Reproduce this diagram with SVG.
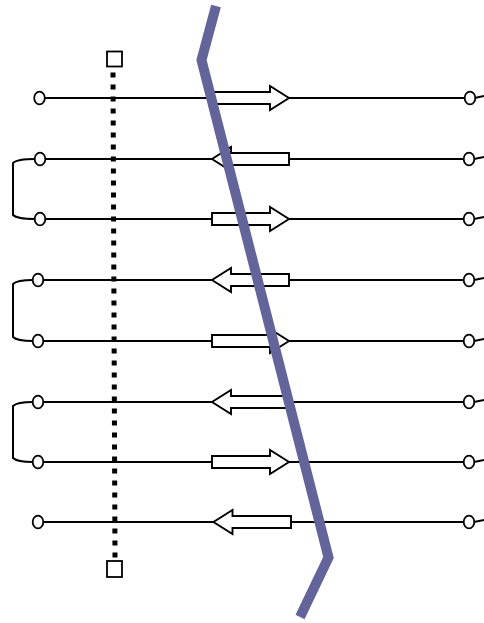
<svg xmlns="http://www.w3.org/2000/svg" width="484" height="623" viewBox="0 0 484 623">
<style>
.ln{stroke:#000;stroke-width:2;fill:none}
.term{fill:#fff;stroke:#000;stroke-width:1.8}
.arr{fill:#fff;stroke:#000;stroke-width:1.9;stroke-linejoin:miter}
.sq{fill:#fff;stroke:#000;stroke-width:1.8}
.dots{stroke:#000;stroke-width:5;stroke-dasharray:5 7;fill:none}
.cut{stroke:#63649a;stroke-width:10;fill:none;stroke-linejoin:miter}
</style>
<g id="connectors">
<path class="ln" d="M44,98H464.5M474.5,98L484,96"/>
<path class="ln" d="M45,159H464M474,159L484,157"/>
<path class="ln" d="M45,219H464M474,219L484,217"/>
<path class="ln" d="M43,280H464M474,280L484,278"/>
<path class="ln" d="M43,341H464M474,341L484,339"/>
<path class="ln" d="M43,402H464M474,402L484,400"/>
<path class="ln" d="M43,462H464M474,462L484,460"/>
<path class="ln" d="M43,522H464M474,522L484,520"/>
<path class="ln" d="M35,159Q17,159 13,163V215Q17,219 35,219"/>
<path class="ln" d="M33,280Q17,280 13,284V337Q17,341 33,341"/>
<path class="ln" d="M33,402Q17,402 13,406V458Q17,462 33,462"/>
<path class="dots" d="M113,72.5L115,557.5"/>
</g>
<g id="arrows">
<polygon id="a1" class="arr" points="212,92 270,92 270,86 289,98 270,110 270,104 212,104"/>
<polygon id="a2" class="arr" points="289,153 231,153 231,147 212,159 231,171 231,165 289,165"/>
<polygon id="a3" class="arr" points="212,213 270,213 270,207 289,219 270,231 270,225 212,225"/>
<polygon id="a4" class="arr" points="289,274 231,274 231,268 212,280 231,292 231,286 289,286"/>
<polygon id="a5" class="arr" points="212,335 270,335 270,329 289,341 270,353 270,347 212,347"/>
<polygon id="a6" class="arr" points="289,396 231,396 231,390 212,402 231,414 231,408 289,408"/>
<polygon id="a7" class="arr" points="212,456 270,456 270,450 289,462 270,474 270,468 212,468"/>
<polygon id="a8" class="arr" points="291,516 232.5,516 232.5,510 213.5,522 232.5,534 232.5,528 291,528"/>
</g>
<g id="left-terminals">
<ellipse id="l1" class="term" cx="39.5" cy="98" rx="5.3" ry="6.3"/>
<ellipse id="l2" class="term" cx="40" cy="159" rx="5.3" ry="6.3"/>
<ellipse id="l3" class="term" cx="40" cy="219" rx="5.3" ry="6.3"/>
<ellipse id="l4" class="term" cx="38" cy="280" rx="5.3" ry="6.3"/>
<ellipse id="l5" class="term" cx="38" cy="341" rx="5.3" ry="6.3"/>
<ellipse id="l6" class="term" cx="38" cy="402" rx="5.3" ry="6.3"/>
<ellipse id="l7" class="term" cx="38" cy="462" rx="5.3" ry="6.3"/>
<ellipse id="l8" class="term" cx="38" cy="522" rx="5.3" ry="6.3"/>
</g>
<g id="right-terminals">
<ellipse id="r1" class="term" cx="470" cy="98" rx="5.3" ry="6.3"/>
<ellipse id="r2" class="term" cx="469" cy="159" rx="5.3" ry="6.3"/>
<ellipse id="r3" class="term" cx="469" cy="219" rx="5.3" ry="6.3"/>
<ellipse id="r4" class="term" cx="469" cy="280" rx="5.3" ry="6.3"/>
<ellipse id="r5" class="term" cx="469" cy="341" rx="5.3" ry="6.3"/>
<ellipse id="r6" class="term" cx="469" cy="402" rx="5.3" ry="6.3"/>
<ellipse id="r7" class="term" cx="469" cy="462" rx="5.3" ry="6.3"/>
<ellipse id="r8" class="term" cx="469" cy="522" rx="5.3" ry="6.3"/>
</g>
<g id="top-square"><rect class="sq" x="107" y="51.5" width="15" height="15"/></g>
<g id="bottom-square"><rect class="sq" x="107" y="561" width="15" height="16"/></g>
<g id="cut-line"><polyline class="cut" points="216,6 201.5,60 328.5,557.5 300,617"/></g>
</svg>
